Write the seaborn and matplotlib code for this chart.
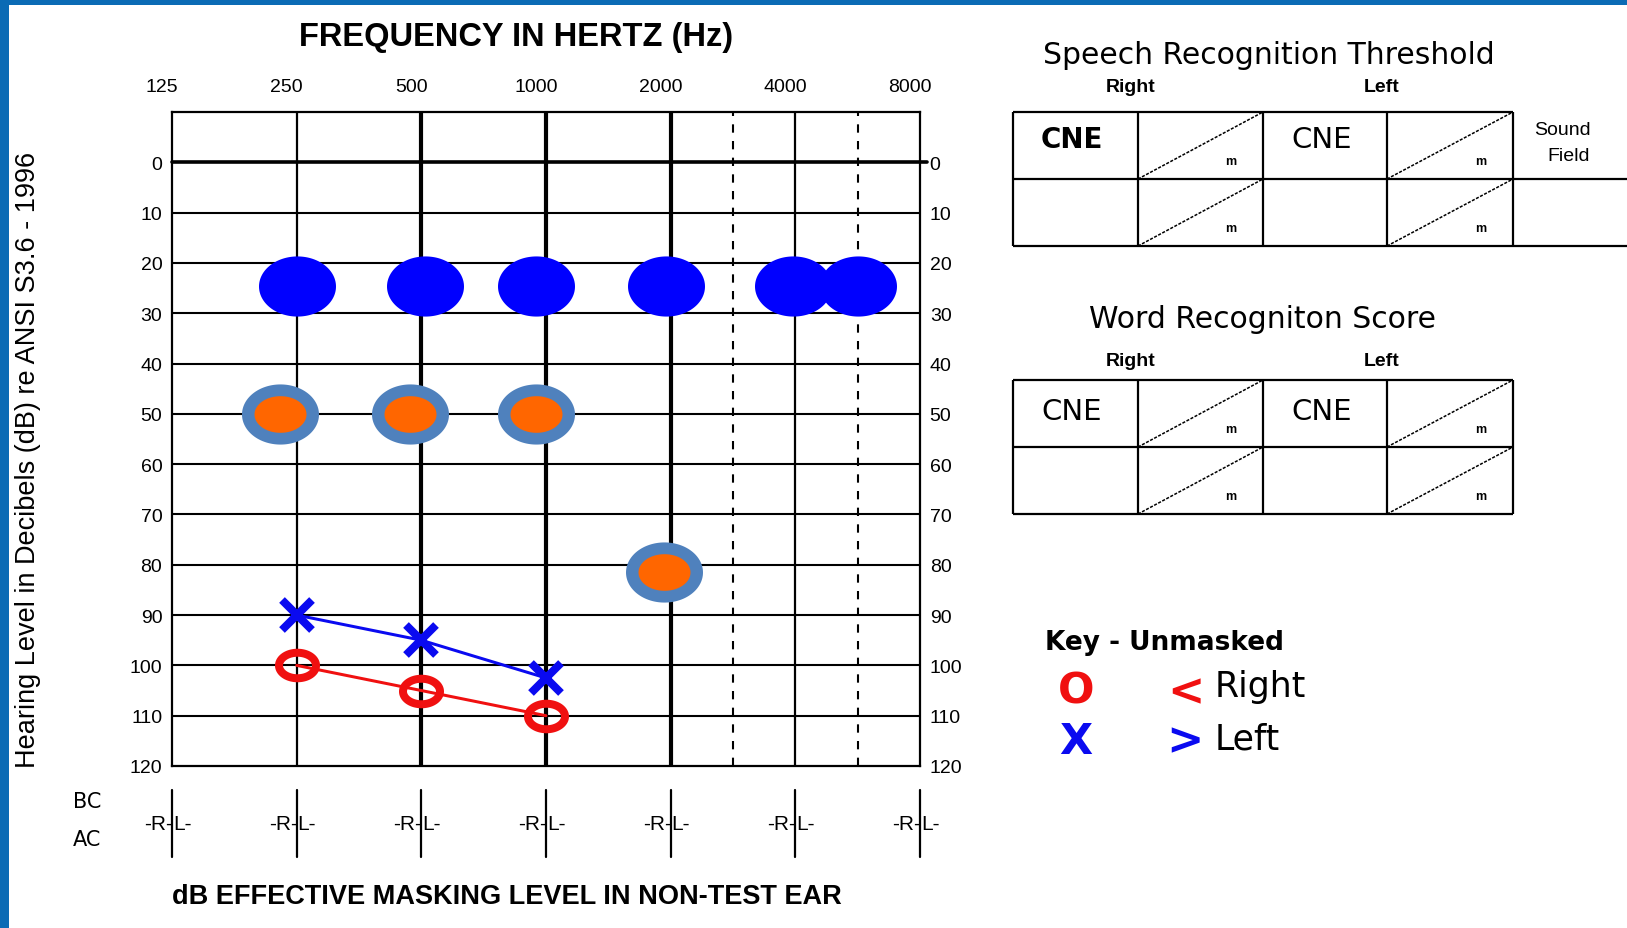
import matplotlib
matplotlib.use("Agg")
import matplotlib.pyplot as plt
import matplotlib.transforms as mtransforms
from matplotlib.path import Path
import numpy as np
import pandas as pd
import seaborn as sns

# ---------------- data ----------------
freq_labels = ["125", "250", "500", "1000", "2000", "4000", "8000"]
db_ticks = [0, 10, 20, 30, 40, 50, 60, 70, 80, 90, 100, 110, 120]

# x = octave position above 125 Hz (0=125, 1=250, ... 6=8000), y = hearing level in dB
sf_pos = [1.0, 2.03, 2.92, 3.96, 4.98, 5.5]
sf_db = [24.5, 24.5, 24.5, 24.5, 24.5, 24.5]
aided_pos = [0.87, 1.91, 2.92, 3.95]
aided_db = [50, 50, 50, 81.5]
left_pos = [1, 2, 3]
left_db = [90, 95, 102.5]
right_pos = [1, 2, 3]
right_db = [100, 105, 110]

# ---------------- style ----------------
sns.set_style("white")
plt.rcParams["font.family"] = ["DejaVu Sans"]
for k in ["text.color", "axes.labelcolor", "xtick.color", "ytick.color"]:
    plt.rcParams[k] = "black"
NARROW = ["Liberation Sans Narrow", "Liberation Sans", "DejaVu Sans"]
ARIAL = ["Liberation Sans", "DejaVu Sans"]
WIDE = ["DejaVu Sans"]

W, H = 1627, 929
fig = plt.figure(figsize=(W / 100, H / 100), dpi=100)
fig.patch.set_facecolor("white")

ov = fig.add_axes([0, 0, 1, 1], zorder=0)
ov.set_xlim(0, W)
ov.set_ylim(H, 0)
ov.axis("off")

ax = fig.add_axes([172 / W, 1 - 767 / H, (920 - 172) / W, (767 - 113) / H], zorder=2)
ax.set_xlim(0, 6)
ax.set_ylim(120, -10)


def ellipse_marker(ratio):
    t = np.linspace(0, 2 * np.pi, 120)
    verts = np.column_stack([ratio * np.cos(t), np.sin(t)])
    return Path(verts, closed=True)


PT = 0.72  # points per pixel at 100 dpi

# grid
for d in db_ticks[1:-1]:
    ax.axhline(d, color="black", lw=1.5, zorder=1)
ax.axhline(0, xmin=0, xmax=1.01, color="black", lw=2.6, zorder=1, clip_on=False)
for p in [1, 5]:
    ax.axvline(p, color="black", lw=1.6, zorder=1)
for p in [2, 3, 4]:
    ax.axvline(p, color="black", lw=3.0, zorder=1)
for p in [4.5, 5.5]:
    ax.axvline(p, color="black", lw=1.5, ls=(0, (4, 4)), zorder=1)
for s in ax.spines.values():
    s.set_color("black")
    s.set_linewidth(1.6)
    s.set_visible(True)

# ticks
ax.xaxis.tick_top()
ax.set_xticks(range(len(freq_labels)))
ax.set_xticklabels(freq_labels)
ax.set_yticks(db_ticks)
ax.set_yticklabels([str(v) for v in db_ticks])
ax.tick_params(axis="y", length=0, left=False, right=False, labelleft=True,
               labelright=True, pad=7)
ax.tick_params(axis="x", length=0, top=False, bottom=False, labeltop=True,
               labelbottom=False, pad=12)
for lab in ax.get_yticklabels() + ax.get_xticklabels():
    lab.set_fontfamily(NARROW)
    lab.set_fontsize(14)
    lab.set_color("black")
off = mtransforms.ScaledTranslation(-10 / 100, 0, fig.dpi_scale_trans)
for lab in ax.get_xticklabels():
    lab.set_transform(lab.get_transform() + off)

# ---------------- data marks ----------------
sf_df = pd.DataFrame({"pos": sf_pos, "db": sf_db})
aided_df = pd.DataFrame({"pos": aided_pos, "db": aided_db})
left_df = pd.DataFrame({"pos": left_pos, "db": left_db})
right_df = pd.DataFrame({"pos": right_pos, "db": right_db})

sns.scatterplot(data=sf_df, x="pos", y="db", ax=ax, marker=ellipse_marker(1.28),
                s=(77 * PT) ** 2, color="#0000FF", linewidth=0, zorder=4, legend=False)
sns.scatterplot(data=aided_df, x="pos", y="db", ax=ax, marker=ellipse_marker(1.28),
                s=(77 * PT) ** 2, color="#4F81BD", linewidth=0, zorder=4, legend=False)
sns.scatterplot(data=aided_df, x="pos", y="db", ax=ax, marker=ellipse_marker(1.42),
                s=(52 * PT) ** 2, color="#FF6600", linewidth=0, zorder=5, legend=False)

sns.lineplot(data=right_df, x="pos", y="db", ax=ax, color="#F01010", lw=3 * PT,
             marker=ellipse_marker(1.45), markersize=37 * PT, markerfacecolor="none",
             markeredgecolor="#F01010", markeredgewidth=8 * PT, zorder=6, legend=False)
sns.lineplot(data=left_df, x="pos", y="db", ax=ax, color="#0A0AF0", lw=3 * PT,
             marker="x", markersize=30 * PT, markeredgecolor="#0A0AF0",
             markeredgewidth=8 * PT, zorder=7, legend=False)
ax.set_xlabel("")
ax.set_ylabel("")
ax.set_xlim(0, 6)
ax.set_ylim(120, -10)

# ---------------- frame border ----------------
ov.add_patch(plt.Rectangle((0, 0), 9, H, color="#0B6BB5", lw=0))
ov.add_patch(plt.Rectangle((0, 0), W, 6, color="#0B6BB5", lw=0))

# ---------------- titles ----------------
ov.text(516, 37, "FREQUENCY IN HERTZ (Hz)", ha="center", va="center",
        fontsize=23.5, fontweight="bold", family=ARIAL)
ov.text(28, 460, "Hearing Level in Decibels (dB) re ANSI S3.6 - 1996", rotation=90,
        ha="center", va="center", fontsize=19.5, family=NARROW)
ov.text(507, 897, "dB EFFECTIVE MASKING LEVEL IN NON-TEST EAR", ha="center", va="center",
        fontsize=19.5, fontweight="bold", family=NARROW)

# masking level marks
bl = mtransforms.blended_transform_factory(ax.transData, ov.transData)
ov.text(73, 802, "BC", ha="left", va="center", fontsize=15, family=WIDE)
ov.text(73, 840, "AC", ha="left", va="center", fontsize=15, family=WIDE)
for p in range(len(freq_labels)):
    ov.plot([p, p], [791, 858], color="black", lw=1.6, transform=bl, clip_on=False)
    ov.text(p, 825, "-R-", ha="right", va="center", fontsize=15, family=NARROW,
            transform=bl + mtransforms.ScaledTranslation(0.01, 0, fig.dpi_scale_trans))
    ov.text(p, 825, "L-", ha="left", va="center", fontsize=15, family=NARROW,
            transform=bl + mtransforms.ScaledTranslation(0.01, 0, fig.dpi_scale_trans))

# ---------------- tables ----------------
cols = [1013, 1138, 1263, 1387, 1513]


def draw_table(rows, extend):
    ov.hlines(rows[0], cols[0], cols[-1], color="black", lw=1.6)
    ov.hlines(rows[1:], cols[0], W if extend else cols[-1], color="black", lw=1.6)
    ov.vlines(cols, rows[0], rows[-1], color="black", lw=1.6)
    for r0, r1 in zip(rows[:-1], rows[1:]):
        for c0, c1 in [(cols[1], cols[2]), (cols[3], cols[4])]:
            ov.plot([c0, c1], [r1, r0], color="black", lw=1.1, ls=(0, (2, 1)))
            ov.text(c1 - 32, r1 - 18, "m", ha="center", va="center", fontsize=9,
                    fontweight="bold", family=NARROW)


ov.text(1269, 55, "Speech Recognition Threshold", ha="center", va="center",
        fontsize=21.5, family=WIDE)
ov.text(1131, 87, "Right", ha="center", va="center", fontsize=14, family=NARROW, fontweight="bold")
ov.text(1382, 87, "Left", ha="center", va="center", fontsize=14, family=NARROW, fontweight="bold")
draw_table([113, 180, 247], True)
ov.text(1072, 140, "CNE", ha="center", va="center", fontsize=20, fontweight="bold", family=WIDE)
ov.text(1322, 140, "CNE", ha="center", va="center", fontsize=21, family=WIDE)
ov.text(1562, 130, "Sound", ha="center", va="center", fontsize=14, family=NARROW)
ov.text(1569, 156, "Field", ha="center", va="center", fontsize=14, family=NARROW)

ov.text(1263, 319, "Word Recogniton Score", ha="center", va="center", fontsize=21.5, family=WIDE)
ov.text(1131, 361, "Right", ha="center", va="center", fontsize=14, family=NARROW, fontweight="bold")
ov.text(1382, 361, "Left", ha="center", va="center", fontsize=14, family=NARROW, fontweight="bold")
draw_table([381, 448, 515], False)
ov.text(1072, 412, "CNE", ha="center", va="center", fontsize=21, family=WIDE)
ov.text(1322, 412, "CNE", ha="center", va="center", fontsize=21, family=WIDE)

# ---------------- key ----------------
ov.text(1045, 643, "Key - Unmasked", ha="left", va="center", fontsize=19,
        fontweight="bold", family=WIDE)
ov.text(1076, 692, "O", ha="center", va="center", fontsize=31, fontweight="bold",
        color="#F01010", family=WIDE)
ov.text(1186, 693, "<", ha="center", va="center", fontsize=32, fontweight="bold",
        color="#F01010", family=WIDE)
ov.text(1215, 687, "Right", ha="left", va="center", fontsize=25, family=WIDE)
ov.text(1076, 742, "X", ha="center", va="center", fontsize=31, fontweight="bold",
        color="#0A0AF0", family=WIDE)
ov.text(1185, 742, ">", ha="center", va="center", fontsize=32, fontweight="bold",
        color="#0A0AF0", family=WIDE)
ov.text(1215, 740, "Left", ha="left", va="center", fontsize=25, family=WIDE)

fig.savefig("out.png", dpi=100)
